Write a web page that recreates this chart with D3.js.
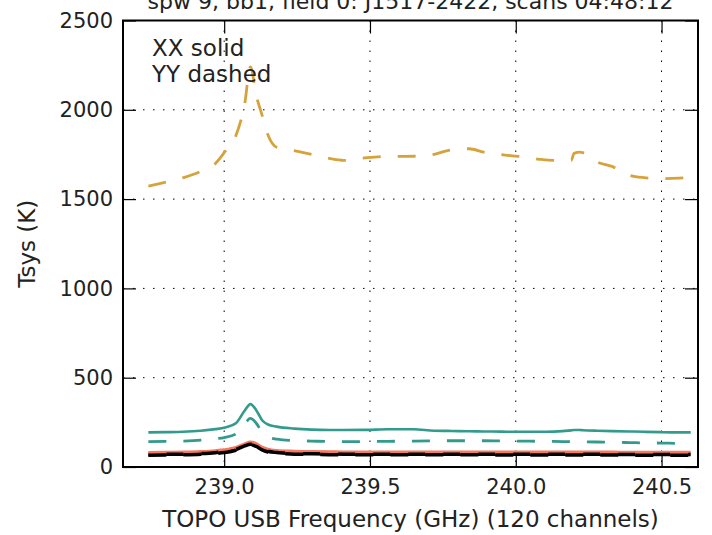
<!DOCTYPE html>
<html><head><meta charset="utf-8">
<script src="https://cdn.jsdelivr.net/npm/d3@7"></script>
<style>body{margin:0;background:#fff}svg{display:block}text{font-family:"DejaVu Sans",sans-serif;fill:#222}</style>
</head><body><svg id="c" width="712" height="535"></svg>
<script>
const title = "spw 9, bb1, field 0: J1517-2422, scans  04:48:12";
const xLabel = "TOPO USB Frequency (GHz) (120 channels)";
const yLabel = "Tsys (K)";
const legendLines = ["XX solid", "YY dashed"];
const xTicks = [239.0, 239.5, 240.0, 240.5];
const yTicks = [0, 500, 1000, 1500, 2000, 2500];

const freq = [238.74,238.80,238.86,238.92,238.97,239.00,239.04,239.07,239.09,239.11,239.13,239.15,239.18,239.24,239.30,239.36,239.41,239.49,239.56,239.65,239.72,239.77,239.84,239.89,239.95,240.01,240.08,240.13,240.19,240.20,240.22,240.23,240.28,240.33,240.39,240.44,240.50,240.56,240.60];

const goldYY = [1573,1595,1620,1655,1700,1760,1855,2030,2240,2080,1970,1860,1790,1772,1750,1728,1717,1732,1739,1740,1751,1773,1782,1763,1749,1739,1723,1717,1717,1756,1763,1760,1707,1683,1633,1620,1615,1618,1622];
const tealXX = [194,195,197,203,212,220,245,315,352,318,262,238,226,215,209,207,207,208,211,211,203,202,200,199,198,197,197,198,205,207,207,206,203,201,199,197,195,194,194];
const tealYY = [142,143,145,150,158,165,185,240,272,245,195,170,156,148,145,143,142,143,144,145,146,147,147,147,146,145,144,143,142,142,141,141,140,138,137,135,134,132,131];
const salmonXX = [82,83,84,87,92,97,110,130,141,132,112,100,93,89,87,86,85,85,85,85,85,85,85,85,84,84,84,84,84,84,84,84,84,84,83,83,83,83,83];
const salmonYY = [76,77,78,81,86,91,104,124,136,126,106,94,87,83,81,80,79,79,79,79,79,79,79,79,78,78,78,78,78,78,78,78,78,78,77,77,77,77,77];
const blackXX = [70,71,72,75,80,85,98,118,128,119,100,88,81,76,74,73,72,72,72,72,72,72,72,72,71,71,71,71,71,71,71,71,71,71,70,70,70,70,70];
const blackYY = [66,67,68,71,76,81,94,114,125,115,96,84,77,72,70,69,68,68,68,68,68,68,68,68,67,67,67,67,67,67,67,67,67,67,66,66,66,66,66];

const series = [
  {v: salmonXX, color: "#f47a62", dash: null, w: 2.8},
  {v: blackXX, color: "#000", dash: null, w: 3.5},
  {v: salmonYY, color: "#f47a62", dash: "18,17", w: 2.8},
  {v: blackYY, color: "#000", dash: "18,17", w: 3.5},
  {v: tealYY, color: "#339a8e", dash: "18,17", w: 2.8},
  {v: tealXX, color: "#339a8e", dash: null, w: 2.6},
  {v: goldYY, color: "#d6a23c", dash: "18,17", w: 2.8}
];

const L = 123, R = 698, T = 20.5, B = 467;
const svg = d3.select("#c");
const x = d3.scaleLinear().domain([238.653, 240.625]).range([L, R]);
const y = d3.scaleLinear().domain([0, 2500]).range([B, T]);

// grid
const g = svg.append("g");
g.selectAll(".gx").data(xTicks).enter().append("line")
  .attr("x1", d => x(d)).attr("x2", d => x(d)).attr("y1", T).attr("y2", B)
  .attr("stroke", "#000").attr("stroke-width", 1).attr("stroke-dasharray", "1.5,8.5");
g.selectAll(".gy").data(yTicks.slice(1, -1)).enter().append("line")
  .attr("y1", d => y(d)).attr("y2", d => y(d)).attr("x1", L).attr("x2", R)
  .attr("stroke", "#000").attr("stroke-width", 1).attr("stroke-dasharray", "1.5,8.5");

// lines
const line = d3.line().x((d, i) => x(freq[i])).y(d => y(d)).curve(d3.curveMonotoneX);
series.forEach(s => {
  svg.append("path").attr("d", line(s.v)).attr("fill", "none")
    .attr("stroke", s.color).attr("stroke-width", s.w)
    .attr("stroke-dasharray", s.dash).attr("stroke-linejoin", "round");
});

// axes (ticks inward, all sides)
const tl = 13;
const fs = 21;
const fl = 23;
const axB = svg.append("g").attr("transform", `translate(0,${B})`)
  .call(d3.axisBottom(x).tickValues(xTicks).tickFormat(d3.format(".1f")).tickSizeInner(-tl).tickSizeOuter(0).tickPadding(12));
const axT = svg.append("g").attr("transform", `translate(0,${T})`)
  .call(d3.axisTop(x).tickValues(xTicks).tickFormat("").tickSizeInner(-tl).tickSizeOuter(0));
const axL = svg.append("g").attr("transform", `translate(${L},0)`)
  .call(d3.axisLeft(y).tickValues(yTicks).tickFormat(d3.format("d")).tickSizeInner(-tl).tickSizeOuter(0).tickPadding(10));
const axR = svg.append("g").attr("transform", `translate(${R},0)`)
  .call(d3.axisRight(y).tickValues(yTicks).tickFormat("").tickSizeInner(-tl).tickSizeOuter(0));
[axB, axT, axL, axR].forEach(a => {
  a.select(".domain").remove();
  a.selectAll(".tick line").attr("stroke", "#000").attr("stroke-width", 1.2);
  a.selectAll("text").style("font-size", fs + "px").attr("fill", "#222").style("font-family", "DejaVu Sans");
});
svg.append("rect").attr("x", L).attr("y", T).attr("width", R - L).attr("height", B - T)
  .attr("fill", "none").attr("stroke", "#000").attr("stroke-width", 2);

// texts
svg.append("text").attr("x", (L + R) / 2).attr("y", 9).attr("text-anchor", "middle")
  .style("font-size", "22px").text(title);
svg.append("text").attr("x", (L + R) / 2).attr("y", 527).attr("text-anchor", "middle")
  .style("font-size", fl + "px").text(xLabel);
svg.append("text").attr("transform", `translate(35,${(T + B) / 2}) rotate(-90)`).attr("text-anchor", "middle")
  .style("font-size", fl + "px").text(yLabel);
legendLines.forEach((t, i) => {
  svg.append("text").attr("x", 152).attr("y", 56 + i * 26).style("font-size", fl + "px").text(t);
});
</script></body></html>
